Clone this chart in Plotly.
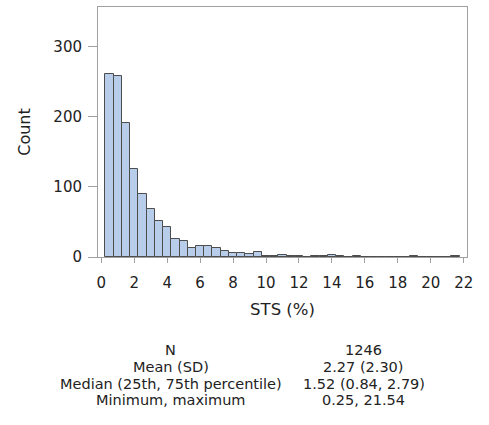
import plotly.graph_objects as go

# Histogram bins (midpoints, width 0.5) and counts
bin_mid = [0.5, 1.0, 1.5, 2.0, 2.5, 3.0, 3.5, 4.0, 4.5, 5.0, 5.5, 6.0, 6.5, 7.0, 7.5,
           8.0, 8.5, 9.0, 9.5, 10.0, 10.5, 11.0, 11.5, 12.0, 12.5, 13.0, 13.5, 14.0,
           14.5, 15.0, 15.5, 16.0, 16.5, 17.0, 17.5, 18.0, 18.5, 19.0, 19.5, 20.0,
           20.5, 21.0, 21.5]
counts = [261, 259, 191, 126, 90, 68, 51, 43, 26, 23, 13, 16, 16, 13, 9,
          6, 6, 4, 7, 1, 2, 3, 2, 1, 0, 1, 1, 3,
          1, 0, 1, 0, 0, 0, 0, 0, 0, 1, 0, 0,
          0, 0, 1]
bin_width = 0.5

x_ticks = list(range(0, 23, 2))
y_ticks = [0, 100, 200, 300]

stat_labels = ["N", "Mean (SD)", "Median (25th, 75th percentile)", "Minimum, maximum"]
stat_values = ["1246", "2.27 (2.30)", "1.52 (0.84, 2.79)", "0.25, 21.54"]

FONT = "DejaVu Sans"
TXT = "#222222"
FRAME = "#a0a0a0"

fig = go.Figure()
fig.add_trace(go.Bar(
    x=bin_mid, y=counts, width=bin_width,
    marker=dict(color="#b7cdea", line=dict(color="#4d4d4d", width=1)),
    showlegend=False,
))

fig.update_layout(
    width=489, height=425,
    margin=dict(l=98, r=22, t=7, b=168),
    paper_bgcolor="white", plot_bgcolor="white",
    font=dict(family=FONT, color=TXT, size=15),
    bargap=0,
    xaxis=dict(
        range=[-0.2, 22.2], tickvals=x_ticks, ticktext=[str(v) for v in x_ticks],
        showline=True, linecolor=FRAME, linewidth=1, mirror=True,
        ticks="outside", ticklen=5, tickcolor=FRAME, showgrid=False, zeroline=False,
        title=dict(text="STS (%)", font=dict(size=16.5), standoff=12),
        tickfont=dict(size=15), ticklabelstandoff=7,
    ),
    yaxis=dict(
        range=[0, 357], tickvals=y_ticks,
        showline=True, linecolor=FRAME, linewidth=1, mirror=True,
        ticks="outside", ticklen=9, tickcolor=FRAME, showgrid=False, zeroline=False,
        title=dict(text="Count", font=dict(size=16), standoff=18),
        tickfont=dict(size=15), ticklabelstandoff=3,
    ),
)

row_y = [-0.37, -0.438, -0.506, -0.574]
for lab, val, yy in zip(stat_labels, stat_values, row_y):
    fig.add_annotation(text=lab, xref="paper", yref="paper", x=0.197, y=yy,
                       showarrow=False, xanchor="center", yanchor="middle",
                       font=dict(size=14.5, family=FONT, color=TXT))
    fig.add_annotation(text=val, xref="paper", yref="paper", x=0.72, y=yy,
                       showarrow=False, xanchor="center", yanchor="middle",
                       font=dict(size=14.5, family=FONT, color=TXT))

fig.write_html("out.html")
